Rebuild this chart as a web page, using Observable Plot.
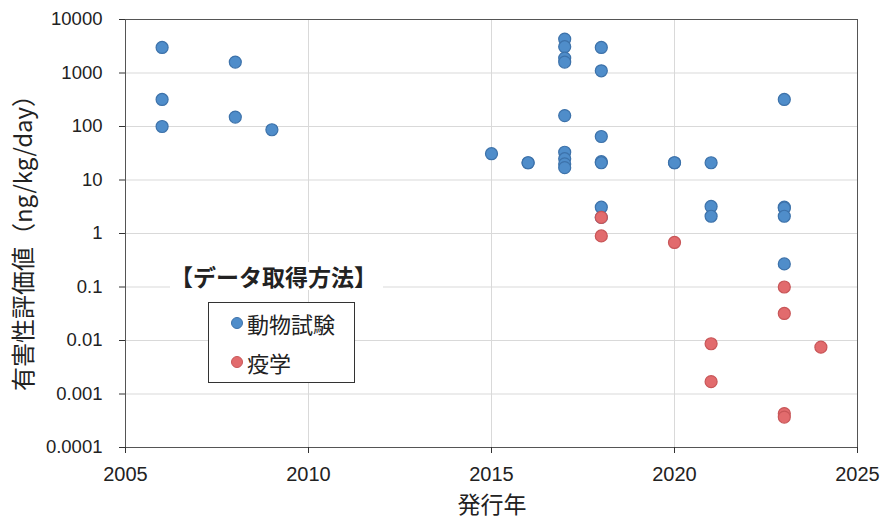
<!DOCTYPE html>
<html>
<head>
<meta charset="utf-8">
<script src="https://cdn.jsdelivr.net/npm/d3@7"></script>
<script src="https://cdn.jsdelivr.net/npm/@observablehq/plot@0.6"></script>
<style>
  html, body { margin: 0; padding: 0; background: #fff; }
  #wrap { position: relative; width: 882px; height: 520px; overflow: hidden; }
  .lbl { position: absolute; font-family: "Noto Sans CJK JP", sans-serif; color: #222; white-space: nowrap; }
</style>
</head>
<body>
<div id="wrap"></div>
<script>
// ---- data ----
const animalYears  = [2006, 2006, 2006, 2008, 2008, 2009, 2015, 2016, 2016,
                      2017, 2017, 2017, 2017, 2017, 2017, 2017, 2017, 2017,
                      2018, 2018, 2018, 2018, 2018, 2018, 2018,
                      2020, 2020, 2021, 2021, 2021,
                      2023, 2023, 2023, 2023, 2023];
const animalValues = [3000, 320, 100, 1600, 150, 87, 31, 21, 21,
                      4300, 3100, 1900, 1600, 160, 33, 25, 20, 17,
                      3000, 1100, 65, 22, 21, 3.1, 2.0,
                      21, 21, 21, 3.2, 2.1,
                      320, 3.1, 3.0, 2.1, 0.27];
const epiYears  = [2018, 2018, 2020, 2021, 2021, 2023, 2023, 2023, 2023, 2024];
const epiValues = [2.0, 0.9, 0.68, 0.0087, 0.0017, 0.1, 0.032, 0.00043, 0.00037, 0.0075];

const seriesNames = ["動物試験", "疫学"];
const legendTitle = "【データ取得方法】";
const xTitle = "発行年";
const yTitle = "有害性評価値（ng/kg/day）";
const xTicks = [2005, 2010, 2015, 2020, 2025];
const xTickLabels = ["2005", "2010", "2015", "2020", "2025"];
const yTicks = [1e-4, 1e-3, 1e-2, 1e-1, 1, 10, 100, 1000, 10000];
const yTickLabels = ["0.0001", "0.001", "0.01", "0.1", "1", "10", "100", "1000", "10000"];

const animal = animalYears.map((y, i) => ({year: y, value: animalValues[i]}));
const epi = epiYears.map((y, i) => ({year: y, value: epiValues[i]}));
const xLab = new Map(xTicks.map((t, i) => [t, xTickLabels[i]]));
const yLab = new Map(yTicks.map((t, i) => [t, yTickLabels[i]]));

const blue = {fill: "#4f8dca", stroke: "#3d72aa"};
const red = {fill: "#e26b6d", stroke: "#c85658"};

const chart = Plot.plot({
  width: 882, height: 520,
  marginLeft: 125, marginRight: 25, marginTop: 19, marginBottom: 73,
  style: {fontFamily: '"Liberation Sans", Arial, "Noto Sans CJK JP", sans-serif', fontSize: "18px", color: "#222", background: "#fff"},
  x: {domain: [2005, 2025]},
  y: {type: "log", domain: [1e-4, 1e4]},
  marks: [
    Plot.gridY(yTicks, {stroke: "#d9d9d9", strokeOpacity: 1}),
    Plot.gridX([2010, 2015, 2020], {stroke: "#d9d9d9", strokeOpacity: 1}),
    Plot.frame({stroke: "#555"}),
    Plot.axisY(yTicks, {tickFormat: d => yLab.get(d), tickSize: 6, tickPadding: 17, label: null, stroke: "#333", fontSize: 18.5}),
    Plot.axisX(xTicks, {tickFormat: d => xLab.get(d), tickSize: 6, tickPadding: 13, label: null, stroke: "#333", fontSize: 20}),
    Plot.dot(animal, {x: "year", y: "value", r: 6, fill: blue.fill, stroke: blue.stroke, strokeWidth: 1.2}),
    Plot.dot(epi, {x: "year", y: "value", r: 6, fill: red.fill, stroke: red.stroke, strokeWidth: 1.2})
  ]
});

const wrap = document.getElementById("wrap");
wrap.appendChild(chart);

function addDiv(html, css) {
  const d = document.createElement("div");
  d.className = "lbl";
  d.innerHTML = html;
  Object.assign(d.style, css);
  wrap.appendChild(d);
  return d;
}

// axis titles
addDiv(xTitle, {left: "492px", top: "503px", transform: "translate(-50%,-50%)", fontSize: "23px", lineHeight: "1"});
addDiv(yTitle, {left: "22px", top: "237px", transform: "translate(-50%,-50%) rotate(-90deg)", fontSize: "24px", lineHeight: "1"});

// legend title
addDiv(legendTitle, {left: "170px", top: "262px", height: "28px", lineHeight: "28px", paddingRight: "6px", background: "#fff", fontSize: "23px", fontWeight: "bold"});

// legend box
const box = addDiv("", {left: "208px", top: "302px", width: "147px", height: "81px", border: "1.5px solid #333", background: "#fff", boxSizing: "border-box"});
[blue, red].forEach((c, i) => {
  const row = document.createElement("div");
  Object.assign(row.style, {position: "absolute", left: "21.5px", top: (5.5 + i * 39) + "px", height: "28px", display: "flex", alignItems: "center", fontSize: "22px", lineHeight: "28px"});
  const dot = document.createElement("span");
  Object.assign(dot.style, {display: "inline-block", width: "10px", height: "10px", borderRadius: "50%", background: c.fill, border: "1px solid " + c.stroke, marginRight: "4.5px"});
  row.appendChild(dot);
  row.appendChild(document.createTextNode(seriesNames[i]));
  box.appendChild(row);
});
</script>
</body>
</html>
